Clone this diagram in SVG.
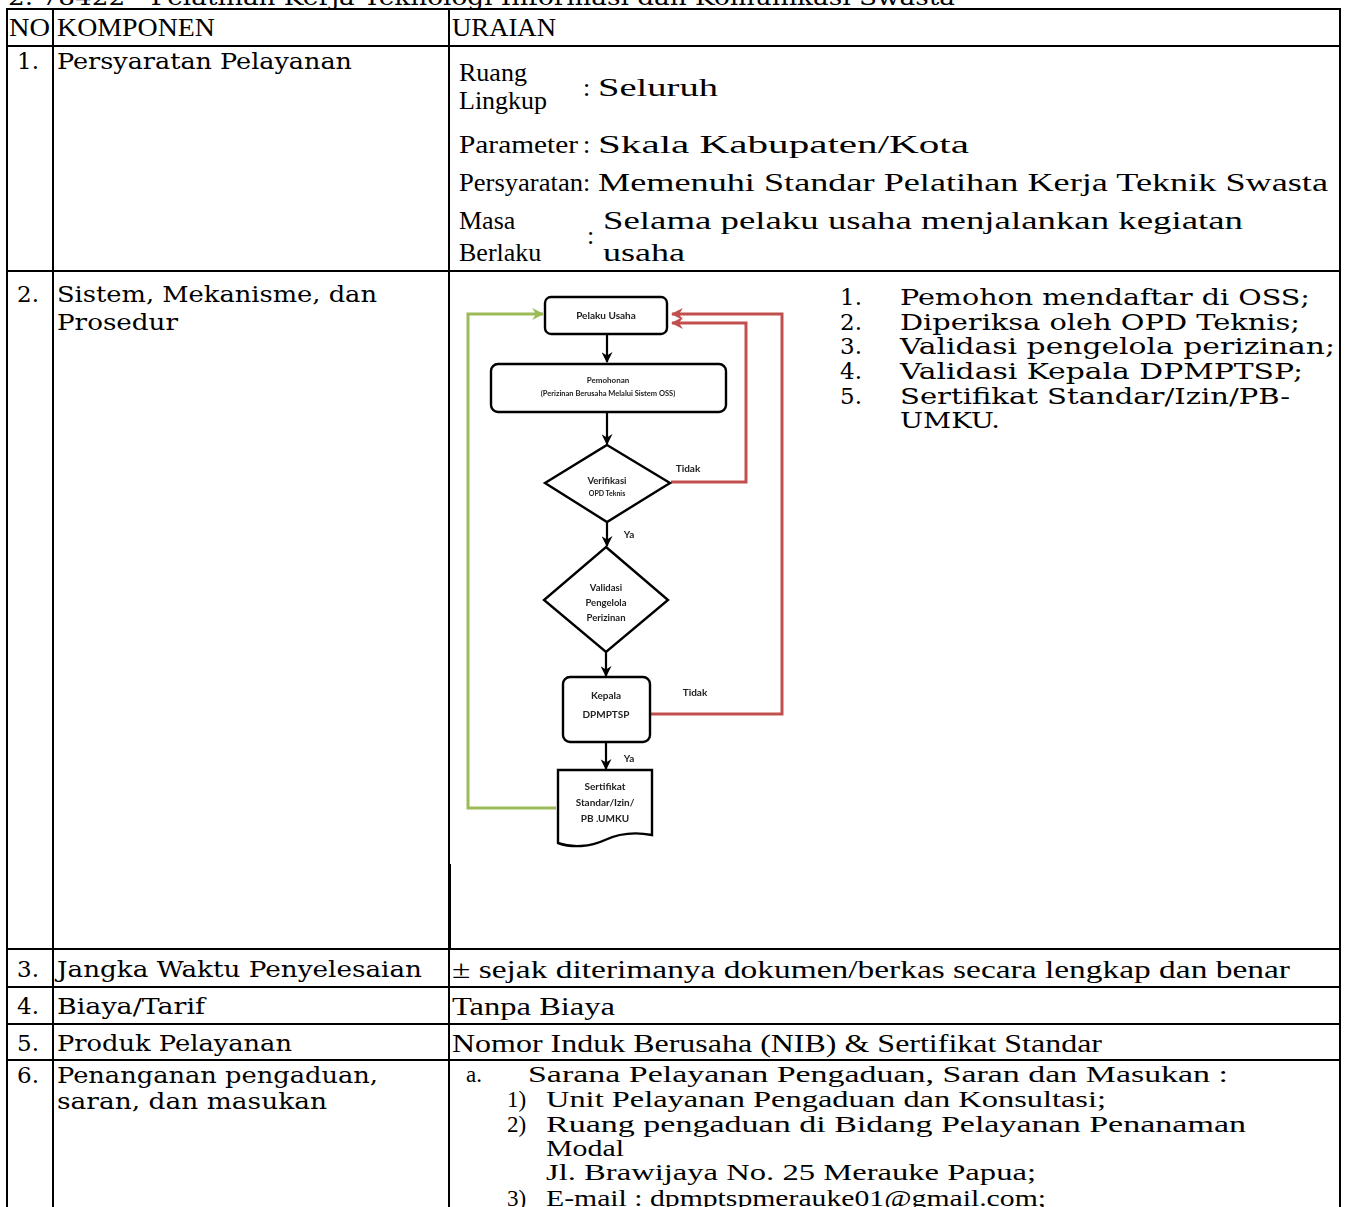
<svg xmlns="http://www.w3.org/2000/svg" width="1346" height="1207" viewBox="0 0 1346 1207">
  <style>
    .tx{font-family:"DejaVu Serif","Liberation Serif",serif;font-size:23px;fill:#000}
    .ur{font-family:"Liberation Serif","DejaVu Serif",serif;font-size:26px;fill:#000}
    .us{font-family:"Liberation Serif","DejaVu Serif",serif;font-size:23px;fill:#000}
    .hd{font-family:"Liberation Serif",serif;font-size:25px;fill:#000}
    .grid line{stroke:#000;stroke-width:2}
    .fc{font-family:Lato,"Open Sans",sans-serif;font-weight:bold;fill:#222;text-anchor:middle}
    .shape{fill:#fff;stroke:#000;stroke-width:2.4}
    .flow{fill:none;stroke:#000;stroke-width:2.2}
    .red{fill:none;stroke:#c0504d;stroke-width:3}
    .green{fill:none;stroke:#9bbb59;stroke-width:3}
  </style>
  <defs>
    <marker id="arrowBlack" viewBox="0 0 10 10" refX="9" refY="5" markerWidth="5" markerHeight="5" orient="auto" markerUnits="strokeWidth">
      <path d="M0,0 L10,5 L0,10 L3,5 z" fill="#000"/>
    </marker>
    <marker id="arrowRed" viewBox="0 0 10 10" refX="9" refY="5" markerWidth="4" markerHeight="4" orient="auto" markerUnits="strokeWidth">
      <path d="M0,0 L10,5 L0,10 L3,5 z" fill="#c0504d"/>
    </marker>
    <marker id="arrowGreen" viewBox="0 0 10 10" refX="9" refY="5" markerWidth="4" markerHeight="4" orient="auto" markerUnits="strokeWidth">
      <path d="M0,0 L10,5 L0,10 L3,5 z" fill="#9bbb59"/>
    </marker>
    <filter id="soft" x="-5%" y="-5%" width="110%" height="110%">
      <feGaussianBlur stdDeviation="0.5"/>
    </filter>
  </defs>

  <rect width="1346" height="1207" fill="#fff"/>

  <!-- heading, mostly above the page edge -->
  <text class="tx" x="8" y="5" textLength="947" lengthAdjust="spacingAndGlyphs">2. 78422 - Pelatihan Kerja Teknologi Informasi dan Komunikasi Swasta</text>

  <!-- table rules -->
  <g id="table-grid" class="grid">
    <line x1="7" y1="9" x2="1340" y2="9"/>
    <line x1="7" y1="46" x2="1340" y2="46"/>
    <line x1="7" y1="271" x2="1340" y2="271"/>
    <line x1="7" y1="949" x2="1340" y2="949"/>
    <line x1="7" y1="987" x2="1340" y2="987"/>
    <line x1="7" y1="1024" x2="1340" y2="1024"/>
    <line x1="7" y1="1060" x2="1340" y2="1060"/>
    <line x1="7" y1="8" x2="7" y2="1207"/>
    <line x1="53" y1="9" x2="53" y2="1207"/>
    <line x1="449" y1="9" x2="449" y2="1207"/>
    <line x1="450" y1="864" x2="450" y2="949"/>
    <line x1="1340" y1="8" x2="1340" y2="1207"/>
  </g>

  <!-- header row -->
  <g id="header">
    <text class="hd" x="9" y="36" textLength="41" lengthAdjust="spacingAndGlyphs">NO</text>
    <text class="hd" x="57" y="36" textLength="158" lengthAdjust="spacingAndGlyphs">KOMPONEN</text>
    <text class="hd" x="452" y="36" textLength="104" lengthAdjust="spacingAndGlyphs">URAIAN</text>
  </g>

  <!-- row 1 -->
  <g id="row1">
    <text class="tx" x="17" y="69">1.</text>
    <text class="tx" x="57" y="69" textLength="295" lengthAdjust="spacingAndGlyphs">Persyaratan Pelayanan</text>
    <text class="ur" x="459" y="81">Ruang</text>
    <text class="ur" x="459" y="109">Lingkup</text>
    <text class="ur" x="583" y="96">:</text>
    <text class="ur" x="598" y="96" textLength="120" lengthAdjust="spacingAndGlyphs">Seluruh</text>
    <text class="ur" x="459" y="153" textLength="119" lengthAdjust="spacingAndGlyphs">Parameter</text>
    <text class="ur" x="583" y="153">:</text>
    <text class="ur" x="598" y="153" textLength="371" lengthAdjust="spacingAndGlyphs">Skala Kabupaten/Kota</text>
    <text class="ur" x="459" y="191" textLength="124" lengthAdjust="spacingAndGlyphs">Persyaratan</text>
    <text class="ur" x="583" y="191">:</text>
    <text class="ur" x="598" y="191" textLength="730" lengthAdjust="spacingAndGlyphs">Memenuhi Standar Pelatihan Kerja Teknik Swasta</text>
    <text class="ur" x="459" y="229">Masa</text>
    <text class="ur" x="459" y="261">Berlaku</text>
    <text class="ur" x="587" y="244">:</text>
    <text class="ur" x="603" y="229" textLength="640" lengthAdjust="spacingAndGlyphs">Selama pelaku usaha menjalankan kegiatan</text>
    <text class="ur" x="603" y="261" textLength="82" lengthAdjust="spacingAndGlyphs">usaha</text>
  </g>

  <!-- row 2 -->
  <g id="row2">
    <text class="tx" x="17" y="302">2.</text>
    <text class="tx" x="57" y="302" textLength="320" lengthAdjust="spacingAndGlyphs">Sistem, Mekanisme, dan</text>
    <text class="tx" x="57" y="330" textLength="121" lengthAdjust="spacingAndGlyphs">Prosedur</text>
    <text class="tx" x="840" y="305">1.</text>
    <text class="tx" x="900" y="305" textLength="410" lengthAdjust="spacingAndGlyphs">Pemohon mendaftar di OSS;</text>
    <text class="tx" x="840" y="330">2.</text>
    <text class="tx" x="900" y="330" textLength="400" lengthAdjust="spacingAndGlyphs">Diperiksa oleh OPD Teknis;</text>
    <text class="tx" x="840" y="354">3.</text>
    <text class="tx" x="900" y="354" textLength="435" lengthAdjust="spacingAndGlyphs">Validasi pengelola perizinan;</text>
    <text class="tx" x="840" y="379">4.</text>
    <text class="tx" x="900" y="379" textLength="403" lengthAdjust="spacingAndGlyphs">Validasi Kepala DPMPTSP;</text>
    <text class="tx" x="840" y="404">5.</text>
    <text class="tx" x="900" y="404" textLength="390" lengthAdjust="spacingAndGlyphs">Sertifikat Standar/Izin/PB-</text>
    <text class="tx" x="900" y="428" textLength="100" lengthAdjust="spacingAndGlyphs">UMKU.</text>
  </g>

  <!-- flowchart inside row 2 -->
  <g id="flowchart" filter="url(#soft)">
    <g id="connectors">
      <line class="flow" x1="607" y1="334" x2="607" y2="362" marker-end="url(#arrowBlack)"/>
      <line class="flow" x1="607" y1="412" x2="607" y2="444" marker-end="url(#arrowBlack)"/>
      <line class="flow" x1="607" y1="522" x2="607" y2="546" marker-end="url(#arrowBlack)"/>
      <line class="flow" x1="606" y1="652" x2="606" y2="676" marker-end="url(#arrowBlack)"/>
      <line class="flow" x1="606" y1="742" x2="606" y2="769" marker-end="url(#arrowBlack)"/>
      <polyline class="red" points="671,482 746,482 746,323 672,323" marker-end="url(#arrowRed)"/>
      <polyline class="red" points="651,714 782,714 782,314 672,314" marker-end="url(#arrowRed)"/>
      <polyline class="green" points="556,808 468,808 468,314 543,314" marker-end="url(#arrowGreen)"/>
      <text class="fc" x="688" y="472" font-size="10">Tidak</text>
      <text class="fc" x="629" y="538" font-size="10">Ya</text>
      <text class="fc" x="695" y="696" font-size="10">Tidak</text>
      <text class="fc" x="629" y="762" font-size="10">Ya</text>
    </g>
    <g id="pelaku-usaha">
      <rect class="shape" x="545" y="297" width="122" height="37" rx="6"/>
      <text class="fc" x="606" y="319" font-size="10">Pelaku Usaha</text>
    </g>
    <g id="pemohonan">
      <rect class="shape" x="491" y="364" width="235" height="48" rx="7"/>
      <text class="fc" x="608" y="383" font-size="8">Pemohonan</text>
      <text class="fc" x="608" y="396" font-size="7.5">(Perizinan Berusaha Melalui Sistem OSS)</text>
    </g>
    <g id="verifikasi">
      <polygon class="shape" points="607,445 670,483 607,522 545,483"/>
      <text class="fc" x="607" y="484" font-size="9.5">Verifikasi</text>
      <text class="fc" x="607" y="496" font-size="7">OPD Teknis</text>
    </g>
    <g id="validasi">
      <polygon class="shape" points="606,547 668,600 606,652 544,600"/>
      <text class="fc" x="606" y="591" font-size="9.5">Validasi</text>
      <text class="fc" x="606" y="606" font-size="9.5">Pengelola</text>
      <text class="fc" x="606" y="621" font-size="9.5">Perizinan</text>
    </g>
    <g id="kepala">
      <rect class="shape" x="563" y="677" width="87" height="65" rx="7"/>
      <text class="fc" x="606" y="699" font-size="10">Kepala</text>
      <text class="fc" x="606" y="718" font-size="10">DPMPTSP</text>
    </g>
    <g id="sertifikat">
      <path class="shape" d="M558,770 H652 V835 C636,832 620,833 605,840 C590,847 572,848 558,843 Z"/>
      <text class="fc" x="605" y="790" font-size="10">Sertifikat</text>
      <text class="fc" x="605" y="806" font-size="10">Standar/Izin/</text>
      <text class="fc" x="605" y="822" font-size="10">PB .UMKU</text>
    </g>
  </g>

  <!-- rows 3 to 6 -->
  <g id="row3">
    <text class="tx" x="17" y="977">3.</text>
    <text class="tx" x="57" y="977" textLength="365" lengthAdjust="spacingAndGlyphs">Jangka Waktu Penyelesaian</text>
    <text class="ur" x="452" y="978" textLength="838" lengthAdjust="spacingAndGlyphs">± sejak diterimanya dokumen/berkas secara lengkap dan benar</text>
  </g>
  <g id="row4">
    <text class="tx" x="17" y="1014">4.</text>
    <text class="tx" x="57" y="1014" textLength="148" lengthAdjust="spacingAndGlyphs">Biaya/Tarif</text>
    <text class="ur" x="452" y="1015" textLength="163" lengthAdjust="spacingAndGlyphs">Tanpa Biaya</text>
  </g>
  <g id="row5">
    <text class="tx" x="17" y="1051">5.</text>
    <text class="tx" x="57" y="1051" textLength="235" lengthAdjust="spacingAndGlyphs">Produk Pelayanan</text>
    <text class="ur" x="452" y="1052" textLength="650" lengthAdjust="spacingAndGlyphs">Nomor Induk Berusaha (NIB) &amp; Sertifikat Standar</text>
  </g>
  <g id="row6">
    <text class="tx" x="17" y="1083">6.</text>
    <text class="tx" x="57" y="1083" textLength="321" lengthAdjust="spacingAndGlyphs">Penanganan pengaduan,</text>
    <text class="tx" x="57" y="1109" textLength="270" lengthAdjust="spacingAndGlyphs">saran, dan masukan</text>
    <text class="us" x="466" y="1082">a.</text>
    <text class="us" x="528" y="1082" textLength="700" lengthAdjust="spacingAndGlyphs">Sarana Pelayanan Pengaduan, Saran dan Masukan :</text>
    <text class="us" x="507" y="1107">1)</text>
    <text class="us" x="546" y="1107" textLength="560" lengthAdjust="spacingAndGlyphs">Unit Pelayanan Pengaduan dan Konsultasi;</text>
    <text class="us" x="507" y="1132">2)</text>
    <text class="us" x="546" y="1132" textLength="700" lengthAdjust="spacingAndGlyphs">Ruang pengaduan di Bidang Pelayanan Penanaman</text>
    <text class="us" x="546" y="1156" textLength="78" lengthAdjust="spacingAndGlyphs">Modal</text>
    <text class="us" x="546" y="1180" textLength="490" lengthAdjust="spacingAndGlyphs">Jl. Brawijaya No. 25 Merauke Papua;</text>
    <text class="us" x="507" y="1206">3)</text>
    <text class="us" x="546" y="1206" textLength="500" lengthAdjust="spacingAndGlyphs">E-mail : dpmptspmerauke01@gmail.com;</text>
  </g>
</svg>
